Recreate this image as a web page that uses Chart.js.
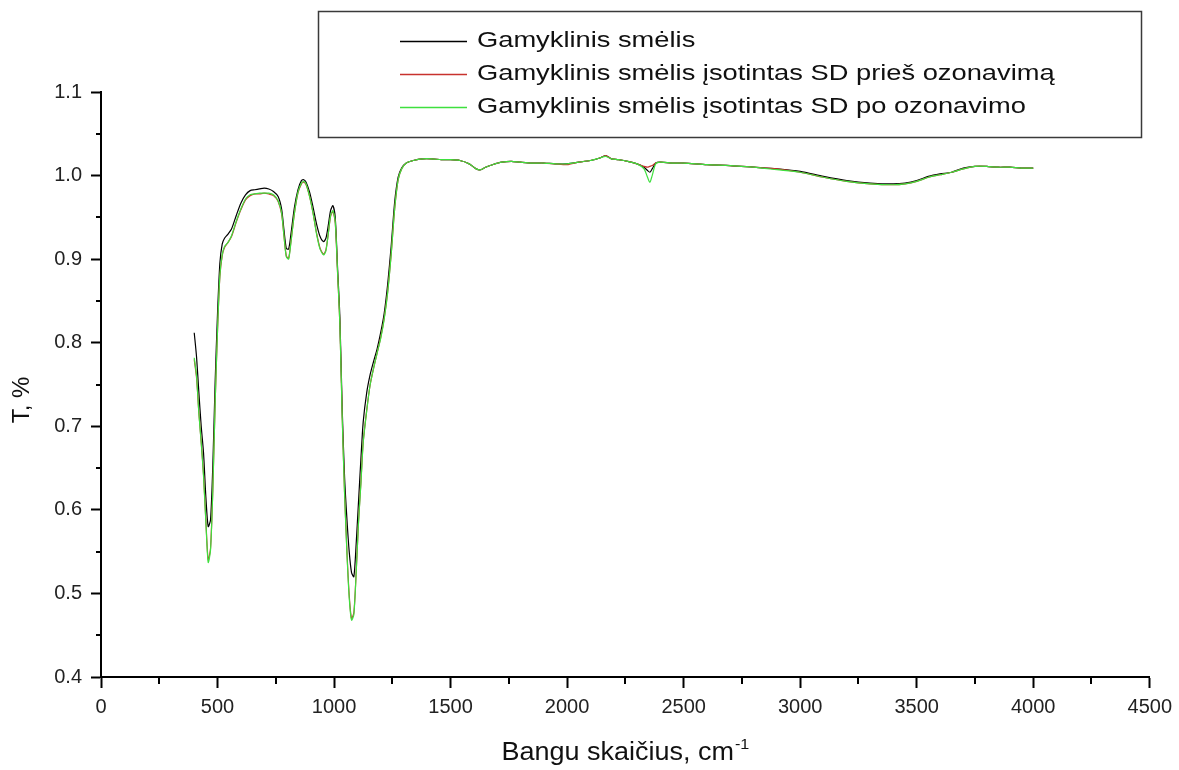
<!DOCTYPE html>
<html>
  <head>
    <meta charset="utf-8" />
    <script src="https://cdn.jsdelivr.net/npm/chart.js@4.4.1/dist/chart.umd.min.js"></script>
    <style>
      html, body { margin: 0; padding: 0; background: #fff; }
      #wrap { width: 1179px; height: 770px; }
    </style>
  </head>
  <body>
    <div id="wrap"><canvas id="ftir"></canvas></div>
    <script>
      // INPUT DATA

      const seriesNames = [
        "Gamyklinis smėlis",
        "Gamyklinis smėlis įsotintas SD prieš ozonavimą",
        "Gamyklinis smėlis įsotintas SD po ozonavimo",
      ];

      const wavenumber = [
        400, 410, 420, 430, 440, 450, 460, 470, 480, 490, 500, 510, 520, 530, 545,
        560, 580, 600, 620, 640, 660, 680, 700, 720, 740, 760, 775, 785, 795, 805,
        815, 830, 845, 860, 870, 880, 895, 910, 925, 940, 955, 965, 975, 985, 995,
        1005, 1015, 1025, 1035, 1045, 1055, 1065, 1075, 1085, 1095, 1105, 1115,
        1125, 1140, 1155, 1170, 1185, 1200, 1215, 1230, 1245, 1260, 1275, 1290,
        1310, 1340, 1380, 1420, 1460, 1500, 1540, 1580, 1610, 1630, 1650, 1680,
        1720, 1760, 1800, 1850, 1900, 1950, 2000, 2050, 2100, 2140, 2165, 2190,
        2220, 2260, 2300, 2330, 2345, 2355, 2365, 2380, 2400, 2450, 2500, 2600,
        2700, 2800, 2900, 3000, 3100, 3200, 3300, 3400, 3450, 3500, 3550, 3600,
        3650, 3700, 3750, 3800, 3850, 3900, 3950, 4000,
      ];

      const sandRaw = [
        0.812, 0.783, 0.74, 0.7, 0.668, 0.615, 0.58, 0.588, 0.655, 0.755, 0.835,
        0.895, 0.918, 0.925, 0.93, 0.936, 0.952, 0.967, 0.977, 0.982, 0.983, 0.984,
        0.985, 0.984, 0.981, 0.975, 0.96, 0.935, 0.913, 0.912, 0.93, 0.962, 0.983,
        0.994, 0.995, 0.992, 0.98, 0.962, 0.942, 0.927, 0.921, 0.925, 0.94, 0.958,
        0.964, 0.95, 0.89, 0.83, 0.72, 0.64, 0.59, 0.55, 0.525, 0.52, 0.56, 0.61,
        0.66, 0.705, 0.74, 0.762, 0.778, 0.793, 0.812, 0.835, 0.87, 0.915, 0.968,
        0.998, 1.009, 1.015, 1.018, 1.02, 1.02, 1.019, 1.019, 1.018, 1.014, 1.008,
        1.007, 1.01, 1.013, 1.016, 1.017, 1.016, 1.015, 1.015, 1.014, 1.014, 1.016,
        1.018, 1.021, 1.024, 1.02, 1.019, 1.017, 1.014, 1.01, 1.006, 1.004, 1.008,
        1.015, 1.016, 1.015, 1.015, 1.013, 1.012, 1.01, 1.008, 1.005, 0.999, 0.994,
        0.991, 0.99, 0.991, 0.994, 0.999, 1.002, 1.004, 1.009, 1.011, 1.011, 1.01,
        1.01, 1.009, 1.009,
      ];

      const sandBeforeOzone = [
        0.78, 0.758, 0.716, 0.681, 0.642, 0.587, 0.54, 0.554, 0.627, 0.731, 0.815,
        0.879, 0.904, 0.914, 0.92, 0.927, 0.944, 0.959, 0.971, 0.976, 0.978, 0.978,
        0.979, 0.978, 0.976, 0.969, 0.954, 0.928, 0.904, 0.901, 0.921, 0.955, 0.979,
        0.99, 0.992, 0.989, 0.975, 0.955, 0.931, 0.913, 0.906, 0.911, 0.93, 0.951,
        0.957, 0.944, 0.884, 0.822, 0.712, 0.622, 0.552, 0.498, 0.47, 0.477, 0.526,
        0.586, 0.632, 0.681, 0.719, 0.75, 0.77, 0.788, 0.806, 0.829, 0.861, 0.906,
        0.96, 0.995, 1.008, 1.015, 1.018, 1.02, 1.02, 1.019, 1.019, 1.018, 1.014,
        1.008, 1.007, 1.01, 1.013, 1.016, 1.017, 1.016, 1.015, 1.015, 1.014, 1.013,
        1.016, 1.018, 1.021, 1.024, 1.02, 1.019, 1.017, 1.014, 1.011, 1.01, 1.011,
        1.012, 1.015, 1.016, 1.015, 1.015, 1.013, 1.012, 1.01, 1.008, 1.004, 0.998,
        0.993, 0.99, 0.989, 0.99, 0.993, 0.998, 1.001, 1.004, 1.008, 1.011, 1.011,
        1.01, 1.01, 1.009, 1.009,
      ];

      const sandAfterOzone = [
        0.782, 0.76, 0.715, 0.68, 0.64, 0.585, 0.537, 0.552, 0.625, 0.73, 0.815,
        0.88, 0.905, 0.915, 0.92, 0.928, 0.945, 0.96, 0.972, 0.977, 0.978, 0.979,
        0.979, 0.979, 0.977, 0.97, 0.955, 0.928, 0.903, 0.9, 0.92, 0.955, 0.98,
        0.991, 0.993, 0.99, 0.975, 0.955, 0.93, 0.912, 0.905, 0.91, 0.93, 0.952,
        0.958, 0.945, 0.885, 0.822, 0.71, 0.62, 0.55, 0.495, 0.468, 0.475, 0.525,
        0.585, 0.63, 0.68, 0.718, 0.75, 0.77, 0.788, 0.805, 0.828, 0.86, 0.905,
        0.96, 0.995, 1.008, 1.015, 1.018, 1.02, 1.02, 1.019, 1.019, 1.018, 1.014,
        1.008, 1.007, 1.01, 1.013, 1.016, 1.017, 1.016, 1.015, 1.015, 1.014, 1.014,
        1.016, 1.018, 1.021, 1.023, 1.02, 1.019, 1.017, 1.014, 1.008, 0.998, 0.992,
        1.0, 1.014, 1.016, 1.015, 1.015, 1.013, 1.012, 1.01, 1.007, 1.004, 0.998,
        0.993, 0.99, 0.989, 0.99, 0.993, 0.998, 1.001, 1.004, 1.008, 1.011, 1.011,
        1.01, 1.01, 1.009, 1.009,
      ];

      const xTicks = [0, 500, 1000, 1500, 2000, 2500, 3000, 3500, 4000, 4500];
      const yTicks = [0.4, 0.5, 0.6, 0.7, 0.8, 0.9, 1.0, 1.1];

      const lineColors = ["#000000", "#c8322d", "#3ee03e"];
      const FONT = "Arial, 'Liberation Sans', sans-serif";

      // PLOTTING

      function toPoints(ys) {
        return wavenumber.map(function (x, i) {
          return { x: x, y: ys[i] };
        });
      }

      const allSeries = [sandRaw, sandBeforeOzone, sandAfterOzone];

      const datasets = allSeries.map(function (ys, i) {
        return {
          label: seriesNames[i],
          data: toPoints(ys),
          borderColor: lineColors[i],
          borderWidth: 1.2,
          pointRadius: 0,
          tension: 0.25,
          fill: false,
          order: 3 - i, // green on top, black underneath
        };
      });

      function isMajorX(v) {
        return xTicks.indexOf(v) !== -1;
      }
      function isMajorY(v) {
        return Math.round(v * 100) % 10 === 0;
      }

      // text in the original is a bit wider than Arial, so stretch it
      function wideText(ctx, text, x, y, sx) {
        ctx.save();
        ctx.translate(x, y);
        ctx.scale(sx, 1);
        ctx.fillText(text, 0, 0);
        ctx.restore();
      }

      // minor ticks, legend box and axis titles
      const decorations = {
        id: "decorations",
        afterDraw(chart) {
          const ctx = chart.ctx;
          const xs = chart.scales.x;
          const ys = chart.scales.y;
          const area = chart.chartArea;
          ctx.save();

          // minor ticks
          ctx.strokeStyle = "#000";
          ctx.lineWidth = 2;
          ctx.beginPath();
          for (let v = 250; v < 4500; v += 500) {
            const px = Math.round(xs.getPixelForValue(v));
            ctx.moveTo(px, area.bottom);
            ctx.lineTo(px, area.bottom + 7);
          }
          for (let v = 0.45; v < 1.1; v += 0.1) {
            const py = Math.round(ys.getPixelForValue(v));
            ctx.moveTo(area.left, py);
            ctx.lineTo(area.left - 5, py);
          }
          ctx.stroke();

          // legend
          ctx.strokeStyle = "#3a3a3a";
          ctx.lineWidth = 1.5;
          ctx.strokeRect(318.5, 11.5, 823, 126);
          ctx.font = "22px " + FONT;
          ctx.textBaseline = "middle";
          ctx.textAlign = "left";
          const rowsY = [41, 74, 107];
          seriesNames.forEach(function (name, i) {
            ctx.strokeStyle = lineColors[i];
            ctx.lineWidth = 1.3;
            ctx.beginPath();
            ctx.moveTo(400, rowsY[i] + 0.5);
            ctx.lineTo(467, rowsY[i] + 0.5);
            ctx.stroke();
            ctx.fillStyle = "#111";
            wideText(ctx, name, 477, rowsY[i], 1.24);
          });

          // x axis title with superscript
          ctx.fillStyle = "#111";
          ctx.textBaseline = "alphabetic";
          const sx = 1.08;
          const mainText = "Bangu skaičius, cm";
          ctx.font = "25px " + FONT;
          const w1 = ctx.measureText(mainText).width * sx;
          ctx.font = "15px " + FONT;
          const w2 = ctx.measureText("-1").width * sx;
          const cx = (area.left + area.right) / 2;
          const startX = cx - (w1 + w2 + 1) / 2;
          ctx.font = "25px " + FONT;
          wideText(ctx, mainText, startX, 760, sx);
          ctx.font = "15px " + FONT;
          wideText(ctx, "-1", startX + w1 + 1, 749, sx);

          // y axis title
          ctx.translate(22, 400);
          ctx.rotate(-Math.PI / 2);
          ctx.textAlign = "center";
          ctx.textBaseline = "middle";
          ctx.font = "24px " + FONT;
          ctx.fillText("T, %", 0, 0);
          ctx.restore();
        },
      };

      const ctx = document.getElementById("ftir").getContext("2d");
      const chart = new Chart(ctx, {
        type: "line",
        data: { datasets: datasets },
        options: {
          responsive: true,
          maintainAspectRatio: false,
          animation: false,
          events: [],
          layout: { padding: { top: 92, right: 29, left: 0, bottom: 0 } },
          plugins: {
            legend: { display: false },
            tooltip: { enabled: false },
          },
          scales: {
            x: {
              type: "linear",
              min: 0,
              max: 4500,
              afterFit(scale) {
                scale.height = 93;
              },
              border: { display: true, color: "#000", width: 2 },
              grid: {
                drawOnChartArea: false,
                drawTicks: true,
                tickLength: 11,
                tickWidth: 2,
                tickColor: function (c) {
                  return c.tick && isMajorX(c.tick.value) ? "#000" : "rgba(0,0,0,0)";
                },
              },
              ticks: {
                stepSize: 250,
                autoSkip: false,
                maxRotation: 0,
                padding: 7,
                color: "#222",
                font: { family: FONT, size: 20 },
                callback: function (v) {
                  return isMajorX(v) ? String(v) : "";
                },
              },
            },
            y: {
              type: "linear",
              min: 0.4,
              max: 1.1,
              afterFit(scale) {
                scale.width = 101;
              },
              border: { display: true, color: "#000", width: 2 },
              grid: {
                drawOnChartArea: false,
                drawTicks: true,
                tickLength: 10,
                tickWidth: 2,
                tickColor: function (c) {
                  return c.tick && isMajorY(c.tick.value) ? "#000" : "rgba(0,0,0,0)";
                },
              },
              ticks: {
                stepSize: 0.05,
                autoSkip: false,
                padding: 9,
                color: "#222",
                font: { family: FONT, size: 20 },
                callback: function (v) {
                  return isMajorY(v) ? v.toFixed(1) : "";
                },
              },
            },
          },
        },
        plugins: [decorations],
      });
    </script>
  </body>
</html>
